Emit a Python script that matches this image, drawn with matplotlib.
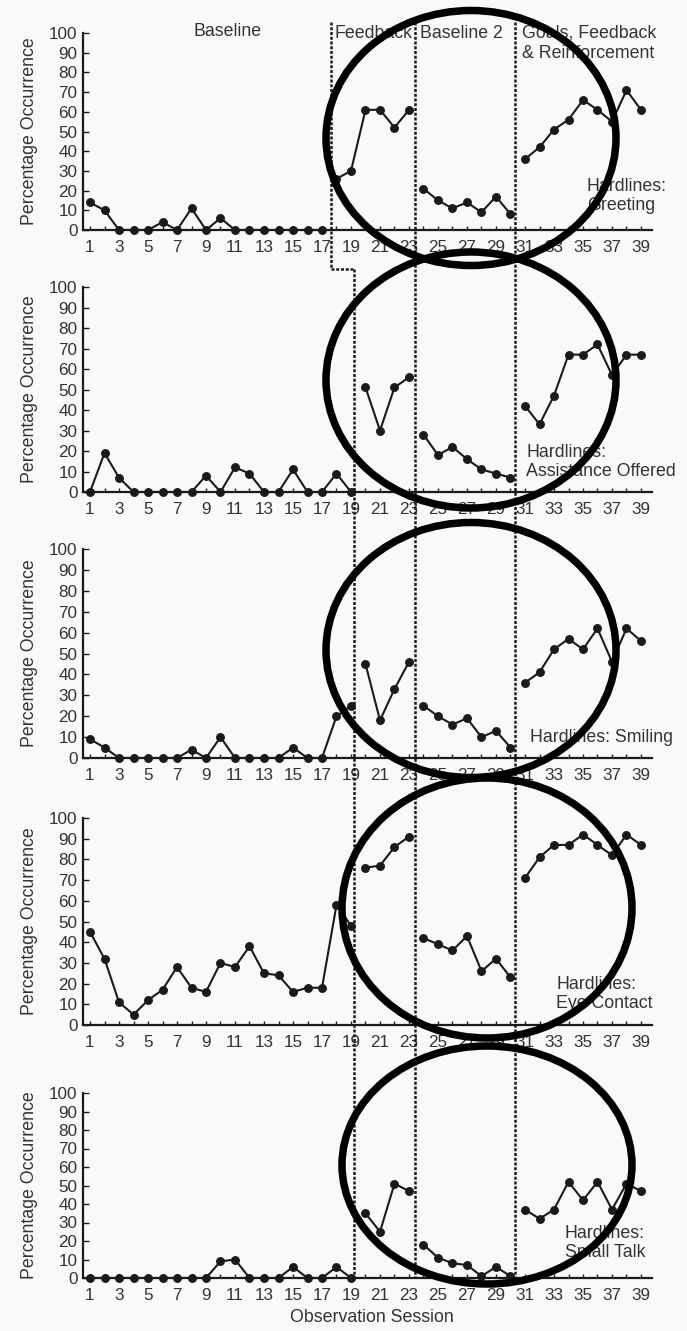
import numpy as np
import matplotlib
matplotlib.use("Agg")
import matplotlib.pyplot as plt
from matplotlib.patches import Ellipse

plt.rcParams["font.family"] = ["Liberation Sans", "DejaVu Sans"]

# observation sessions and percentage occurrence per behaviour
sessions = np.arange(1, 40)
greeting = [14, 10, 0, 0, 0, 4, 0, 11, 0, 6, 0, 0, 0, 0, 0, 0, 0,
            26, 30, 61, 61, 52, 61,
            21, 15, 11, 14, 9, 17, 8,
            36, 42, 51, 56, 66, 61, 55, 71, 61]
assistance = [0, 19, 7, 0, 0, 0, 0, 0, 8, 0, 12, 9, 0, 0, 11, 0, 0, 9, 0,
              51, 30, 51, 56,
              28, 18, 22, 16, 11, 9, 7,
              42, 33, 47, 67, 67, 72, 57, 67, 67]
smiling = [9, 5, 0, 0, 0, 0, 0, 4, 0, 10, 0, 0, 0, 0, 5, 0, 0, 20, 25,
           45, 18, 33, 46,
           25, 20, 16, 19, 10, 13, 5,
           36, 41, 52, 57, 52, 62, 46, 62, 56]
eye_contact = [45, 32, 11, 5, 12, 17, 28, 18, 16, 30, 28, 38, 25, 24, 16, 18, 18, 58, 48,
               76, 77, 86, 91,
               42, 39, 36, 43, 26, 32, 23,
               71, 81, 87, 87, 92, 87, 82, 92, 87]
small_talk = [0, 0, 0, 0, 0, 0, 0, 0, 0, 9, 10, 0, 0, 0, 6, 0, 0, 6, 0,
              35, 25, 51, 47,
              18, 11, 8, 7, 1, 6, 1,
              37, 32, 37, 52, 42, 52, 37, 51, 47]

series = [greeting, assistance, smiling, eye_contact, small_talk]
panel_labels = ["Hardlines:\nGreeting", "Hardlines:\nAssistance Offered",
                "Hardlines: Smiling", "Hardlines:\nEye Contact", "Hardlines:\nSmall Talk"]
feedback_start = [18, 20, 20, 20, 20]
baseline2_start = 24
gfr_start = 31
# phase change lines (session units): feedback for row 1, feedback rows 2-5, baseline 2, GFR
phase_lines = [17.6, 19.2, 23.4, 30.3]
phase_names = ["Baseline", "Feedback", "Baseline 2", "Goals, Feedback\n& Reinforcement"]
y_ticks = list(range(0, 101, 10))
x_tick_labels = [str(s) if s % 2 else "" for s in sessions]

W, H = 687, 1331
fig = plt.figure(figsize=(W / 100, H / 100), dpi=100, facecolor="#f9f9f9")

ink = "#1a1a1a"
txt = "#333333"
fs = 12.8

# panel placement in pixels: (top, bottom)
rows = [(33, 230), (287, 492), (549, 758), (818, 1025), (1093, 1278)]
ax_left, ax_right = 83, 652
px_per = (641 - 90) / 38.0
xlim = (1 - (90 - ax_left) / px_per, 39 + (ax_right - 641) / px_per)

axes = []
for i, (top, bot) in enumerate(rows):
    ax = fig.add_axes([ax_left / W, 1 - bot / H, (ax_right - ax_left) / W, (bot - top) / H])
    ax.set_facecolor("none")
    vals = np.array(series[i])
    bounds = [1, feedback_start[i], baseline2_start, gfr_start, 40]
    for a, b in zip(bounds[:-1], bounds[1:]):
        m = (sessions >= a) & (sessions < b)
        ax.plot(sessions[m], vals[m], "-o", color=ink, lw=1.5, ms=5.4,
                clip_on=False, zorder=3)
    ax.set_xlim(*xlim)
    ax.set_ylim(0, 100)
    ax.set_xticks(sessions)
    ax.set_xticklabels(x_tick_labels)
    ax.set_yticks(y_ticks)
    for s in ["top", "right"]:
        ax.spines[s].set_visible(False)
    for s in ["left", "bottom"]:
        ax.spines[s].set_color(ink)
        ax.spines[s].set_linewidth(1.6)
    ax.tick_params(axis="x", direction="in", length=3, width=1, colors=ink,
                   labelcolor=txt, labelsize=12.3, pad=7)
    ax.tick_params(axis="y", direction="in", length=4, width=1, colors=ink,
                   labelcolor=txt, labelsize=12.3, pad=4)
    ax.set_ylabel("Percentage Occurrence", fontsize=fs, color=txt)
    ax.yaxis.label.set_verticalalignment("center")
    ax.yaxis.set_label_coords((30 - ax_left) / (ax_right - ax_left), 0.5)
    axes.append(ax)

# overlay in pixel coordinates for phase lines, labels and circles
ov = fig.add_axes([0, 0, 1, 1], zorder=10)
ov.set_xlim(0, W)
ov.set_ylim(H, 0)
ov.axis("off")


def sx(s):
    return axes[0].transData.transform((s, 0))[0]


dash = dict(color=ink, lw=1.8, ls=(0, (1.2, 0.7)))
ov.plot([sx(phase_lines[0])] * 2, [22, 269], **dash)
ov.plot([sx(phase_lines[0]), sx(phase_lines[1])], [269, 269], **dash)
ov.plot([sx(phase_lines[1])] * 2, [269, rows[-1][1]], **dash)
for s in phase_lines[2:]:
    ov.plot([sx(s)] * 2, [22, rows[-1][1]], **dash)

ov.text(228, 32, phase_names[0], ha="center", va="center", fontsize=fs, color=txt)
ov.text(335, 33, phase_names[1], ha="left", va="center", fontsize=fs, color=txt)
ov.text(420, 33, phase_names[2], ha="left", va="center", fontsize=fs, color=txt)
ov.text(522, 43, phase_names[3], ha="left", va="center", fontsize=fs, color=txt,
        linespacing=1.3)

label_pos = [(587, 196), (526, 462), (530, 737), (556, 994), (565, 1243)]
for (lx, ly), lab in zip(label_pos, panel_labels):
    ov.text(lx, ly, lab, ha="left", va="center", fontsize=fs, color=txt,
            linespacing=1.15)

ov.text(372, 1318, "Observation Session", ha="center", va="center", fontsize=fs, color=txt)

# highlight circles
circles = [(471, 138, 290, 255), (471, 380, 290, 256), (471, 650, 290, 255),
           (487, 908, 290, 260), (487, 1165, 290, 238)]
for cx, cy, w, h in circles:
    ov.add_patch(Ellipse((cx, cy), w, h, fill=False, ec="black", lw=5.4, zorder=20))

fig.savefig("out.png", dpi=100, facecolor=fig.get_facecolor())
